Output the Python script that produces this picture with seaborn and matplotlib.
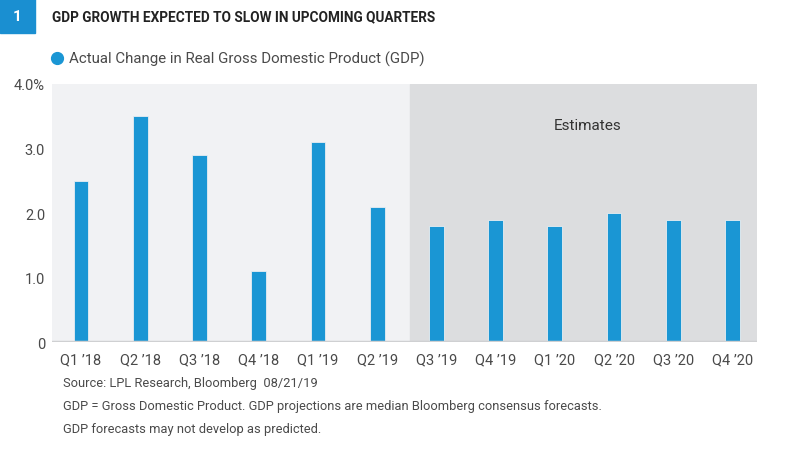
import pandas as pd
import numpy as np
import matplotlib.pyplot as plt
import seaborn as sns
from matplotlib.patches import Rectangle
from matplotlib.lines import Line2D

# Data
quarters = ["Q1 \u201918", "Q2 \u201918", "Q3 \u201918", "Q4 \u201918", "Q1 \u201919", "Q2 \u201919",
            "Q3 \u201919", "Q4 \u201919", "Q1 \u201920", "Q2 \u201920", "Q3 \u201920", "Q4 \u201920"]
gdp_change = [2.5, 3.5, 2.9, 1.1, 3.1, 2.1, 1.8, 1.9, 1.8, 2.0, 1.9, 1.9]
y_ticks = [0, 1, 2, 3, 4]
y_tick_labels = ["0", "1.0", "2.0", "3.0", "4.0%"]

df = pd.DataFrame({"quarter": quarters, "gdp": gdp_change})

sns.set_theme(style="white")
plt.rcParams['font.family'] = ['Roboto', 'DejaVu Sans']

bar_color = "#1a96d4"
text_color = "#4a4a4a"

fig = plt.figure(figsize=(8, 4.52), dpi=100)
ax = fig.add_axes([0.065, 0.2405, 0.881, 0.5715])

# Background panels
ax.axvspan(-0.49, 5.55, color="#f1f2f4", zorder=0)
ax.axvspan(5.55, 11.41, color="#dcdddf", zorder=0)

sns.barplot(data=df, x="quarter", y="gdp", color=bar_color, width=0.25,
            saturation=1, edgecolor="#e8eef2", linewidth=0.6, ax=ax, zorder=2)

ax.set_xlim(-0.49, 11.41)
ax.set_ylim(0, 4)
ax.set_yticks(y_ticks)
ax.set_yticklabels(y_tick_labels)
ax.set_xlabel("")
ax.set_ylabel("")
for s in ax.spines.values():
    s.set_visible(False)
ax.axhline(0, color="#cfd0d2", lw=2.5, zorder=3)
ax.tick_params(axis="both", length=0, labelsize=10.5, colors=text_color)
ax.tick_params(axis="x", pad=7)
ax.tick_params(axis="y", pad=5)

ax.text(8.55, 3.37, "Estimates", ha="center", va="center", fontsize=11, color="#333333")

# Title block
fig.patches.append(Rectangle((0, 1 - 34 / 452), 35 / 800, 34 / 452, transform=fig.transFigure,
                             color="#1a8fd1", zorder=0))
fig.text(17 / 800, 1 - 17 / 452, "1", color="white", fontsize=11, fontweight="bold",
         ha="center", va="center")
fig.text(52 / 800, 1 - 17 / 452, "GDP GROWTH EXPECTED TO SLOW IN UPCOMING QUARTERS",
         color="#222222", fontsize=9.8, fontweight="bold", ha="left", va="center")

# Legend
fig.lines.append(Line2D([57 / 800], [1 - 59 / 452], marker="o", markersize=8.5, color=bar_color,
                        transform=fig.transFigure))
fig.text(69 / 800, 1 - 59 / 452, "Actual Change in Real Gross Domestic Product (GDP)",
         color=text_color, fontsize=10.8, ha="left", va="center")

# Footnotes
notes = ["Source: LPL Research, Bloomberg  08/21/19",
         "GDP = Gross Domestic Product. GDP projections are median Bloomberg consensus forecasts.",
         "GDP forecasts may not develop as predicted."]
for i, n in enumerate(notes):
    fig.text(63 / 800, 1 - (384 + i * 23) / 452, n, color=text_color, fontsize=9.3,
             ha="left", va="center")

fig.savefig("out.png", dpi=100)
